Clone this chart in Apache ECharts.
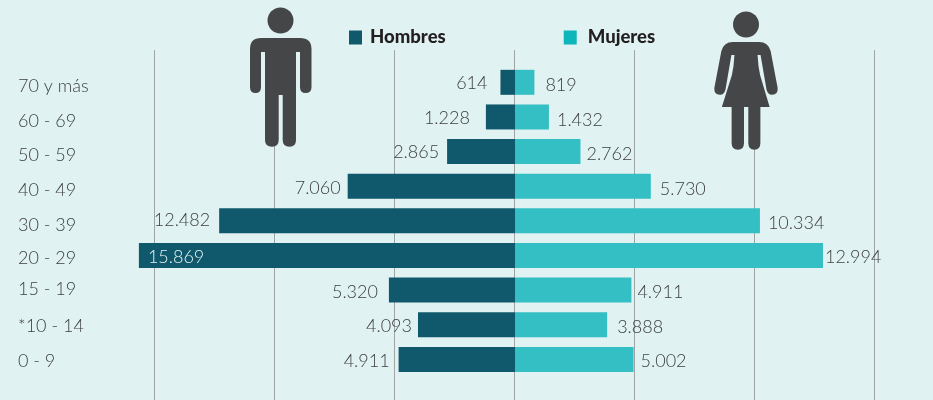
<!DOCTYPE html>
<html><head><meta charset="utf-8">
<style>html,body{margin:0;padding:0;background:#e0f2f2}#c{width:933px;height:400px}</style>
<script src="https://cdn.jsdelivr.net/npm/echarts@6/dist/echarts.min.js"></script>
</head><body><div id="c"></div>
<script>
const categories = ['70 y más','60 - 69','50 - 59','40 - 49','30 - 39','20 - 29','15 - 19','*10 - 14','0 - 9'];
const hombres = [614,1228,2865,7060,12482,15869,5320,4093,4911];
const mujeres = [819,1432,2762,5730,10334,12994,4911,3888,5002];
// label placement nudges [horizontal gap, vertical shift], separate from the data
const hombresNudge = [[13,1],[16,1],[8,1],[7,2],[9,-1],[0,2],[11,2],[6,1],[9,2]];
const mujeresNudge = [[11,3],[8,3],[6,3],[9,3],[8,2],[2,2],[6,2],[10,2],[7,2]];
const categoryShift = [4,4,4,4,4,3,-1,1,2];

const fmt = v => String(v).replace(/\B(?=(\d{3})+$)/g,'.');
const TXT = '#3f4143', FONT = 'Lato';
const manPath = 'M261 38H300Q311.5 38 311.5 49V87Q311.5 93 305.5 93Q300 93 300 87V52H296V140Q296 146.7 289.5 146.7Q282.7 146.7 282.7 140V95H278.7V140Q278.7 146.7 272 146.7Q265 146.7 265 140V52H261V87Q261 93 255.5 93Q250 93 250 87V49Q250 38 261 38Z';
const womanPath = 'M733 42H759Q768 42 770.5 51L777.5 88Q778 94.7 772 94.7Q768 95 766.5 90L760.5 55H757.5Q758 66 760 75L769.5 107H760.3V143Q760.3 149.7 754.3 149.7Q748.3 149.7 748.3 143V107H744V143Q744 149.7 738 149.7Q731.7 149.7 731.7 143V107H722L732 75Q734 66 734.5 55H731.5L725.5 90Q724 95 720 94.7Q714 94.7 714.5 88L721.5 51Q724 42 733 42Z';

const richShift = {};
categoryShift.forEach((s,i)=>{
  richShift['c'+i] = {fontFamily:FONT,fontSize:18,fontWeight:300,color:TXT,
    padding: s>=0 ? [s*2,0,0,0] : [0,0,-s*2,0]};
});

const chart = echarts.init(document.getElementById('c'), null, {renderer:'canvas'});
const limit = 15189, step = 5063;
const lab = {show:true,fontFamily:FONT,fontSize:18,fontWeight:300,color:TXT,distance:0};
chart.setOption({
  animation:false,
  backgroundColor:'#e0f2f2',
  legend:{
    left:349, top:28, padding:0, itemWidth:13, itemHeight:14, itemGap:118, icon:'rect',
    textStyle:{fontFamily:'Lato',fontWeight:900,fontSize:18.5,color:'#231f20',padding:[0,0,0,3]},
    data:[
      {name:'Hombres',itemStyle:{color:'#10586b'}},
      {name:'Mujeres',itemStyle:{color:'#0cb6bb'},textStyle:{padding:[0,0,0,6]}}
    ]
  },
  grid:[
    {left:155,right:58,top:65,height:311.7,outerBoundsMode:'none',containLabel:false},
    {left:154,right:59,top:50,bottom:0,outerBoundsMode:'none',containLabel:false}
  ],
  xAxis:[
    {gridIndex:0,type:'value',min:-limit,max:limit,interval:step,show:false},
    {gridIndex:1,type:'value',min:-limit,max:limit,interval:step,
     axisLine:{show:false},axisTick:{show:false},axisLabel:{show:false},
     splitLine:{show:true,lineStyle:{color:'#a0a4a5',width:1}}}
  ],
  yAxis:[
    {gridIndex:0,type:'category',inverse:true,data:categories,
     axisLine:{show:false},axisTick:{show:false},
     axisLabel:{margin:137,align:'left',interval:0,hideOverlap:false,fontFamily:FONT,fontSize:18,fontWeight:300,color:TXT,
       formatter:(v,i)=>`{c${i}|${v}}`,rich:richShift}},
    {gridIndex:1,type:'value',show:false}
  ],
  series:[
    {name:'Hombres',type:'bar',xAxisIndex:0,yAxisIndex:0,barWidth:25,barGap:'-100%',clip:false,
     itemStyle:{color:'#10586b'},
     data:hombres.map((v,i)=>{
       const inside = v===Math.max(...hombres);
       const n=hombresNudge[i];
       return {value:-v,label:inside
         ?{...lab,position:'insideLeft',offset:[9,n[1]],color:'#e4f3f3',formatter:fmt(v)}
         :{...lab,position:'left',offset:[-n[0],n[1]],formatter:fmt(v)}};
     })},
    {name:'Mujeres',type:'bar',xAxisIndex:0,yAxisIndex:0,barWidth:25,clip:false,
     itemStyle:{color:'#33bfc3'},
     data:mujeres.map((v,i)=>{
       const n=mujeresNudge[i];
       return {value:v,label:{...lab,position:'right',offset:[n[0],n[1]],formatter:fmt(v)}};
     })},
    {name:'iconos',type:'custom',coordinateSystem:'none',data:[0],silent:true,z:5,
     renderItem:()=>({type:'group',children:[
       {type:'circle',shape:{cx:280.5,cy:20.5,r:13},style:{fill:'#454648'}},
       {type:'path',shape:{pathData:manPath,x:250,y:38,width:61.5,height:108.7,layout:'cover'},style:{fill:'#454648'}},
       {type:'circle',shape:{cx:746,cy:24.5,r:13},style:{fill:'#454648'}},
       {type:'path',shape:{pathData:womanPath,x:714.3,y:42,width:63.4,height:107.7,layout:'cover'},style:{fill:'#454648'}}
     ]})}
  ]
});
</script></body></html>
